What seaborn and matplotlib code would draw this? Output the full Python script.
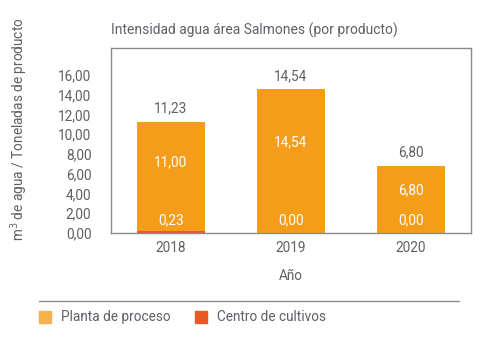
import seaborn as sns
import matplotlib.pyplot as plt
import pandas as pd

years = ['2018', '2019', '2020']
planta = [11.00, 14.54, 6.80]
centro = [0.23, 0.00, 0.00]
totales = [11.23, 14.54, 6.80]
yticks = [0, 2, 4, 6, 8, 10, 12, 14, 16]

c_planta = '#F59D1A'
c_planta_leg = '#F8B048'
c_centro = '#E85A26'
c_text = '#5f5f66'
c_frame = '#8a8a8e'

sns.set_theme(style='white')
plt.rcParams['font.family'] = ['Roboto', 'DejaVu Sans']

df = pd.DataFrame({'Año': years, 'Planta': planta, 'Centro': centro, 'Total': totales})


def fmt(v):
    return f'{v:.2f}'.replace('.', ',')


fig = plt.figure(figsize=(5.02, 3.51), dpi=100)
ax = fig.add_axes([0.221, 0.336, 0.717, 0.527])

# barras apiladas: centro abajo, planta encima
sns.barplot(data=df, x='Año', y='Total', color=c_planta, width=0.57,
            saturation=1, linewidth=0, ax=ax)
sns.barplot(data=df, x='Año', y='Centro', color=c_centro, width=0.57,
            saturation=1, linewidth=0, ax=ax)

fs = 9.8
for i, row in df.iterrows():
    ax.annotate(fmt(row['Total']), (i, row['Total']), xytext=(0, 9.5),
                textcoords='offset points', ha='center', va='center',
                fontsize=fs, color=c_text)
    ax.annotate(fmt(row['Planta']), (i, row['Centro'] + row['Planta'] * 0.63),
                ha='center', va='center', fontsize=fs, color='white')
    ax.annotate(fmt(row['Centro']), (i, 0), xytext=(0, 9),
                textcoords='offset points', ha='center', va='center',
                fontsize=fs, color='white')

ax.set_ylim(0, 18.7)
ax.set_xlim(-0.5, 2.5)
ax.set_yticks(yticks)
ax.set_yticklabels([fmt(v) for v in yticks])
ax.tick_params(axis='both', length=0, labelsize=fs, labelcolor=c_text)
ax.tick_params(axis='y', pad=14)
ax.tick_params(axis='x', pad=6)
ax.set_xlabel('Año', fontsize=fs, color=c_text, labelpad=10)
ax.set_ylabel('m$^3$ de agua / Toneladas de producto', fontsize=fs, color=c_text)
ax.yaxis.set_label_coords(-0.225, 0.56)
for s in ax.spines.values():
    s.set_color(c_frame)
    s.set_linewidth(1)

fig.text(0.221, 0.915, 'Intensidad agua área Salmones (por producto)',
         fontsize=10, color=c_text, ha='left', va='center')

# línea separadora y leyenda
fig.add_artist(plt.Line2D([0.078, 0.915], [0.142, 0.142], color=c_frame, lw=1))
fig.add_artist(plt.Rectangle((0.078, 0.080), 0.024, 0.033, color=c_planta_leg))
fig.text(0.122, 0.097, 'Planta de proceso', fontsize=fs, color=c_text, va='center')
fig.add_artist(plt.Rectangle((0.388, 0.080), 0.024, 0.033, color=c_centro))
fig.text(0.432, 0.097, 'Centro de cultivos', fontsize=fs, color=c_text, va='center')

fig.savefig('out.png', dpi=100)
